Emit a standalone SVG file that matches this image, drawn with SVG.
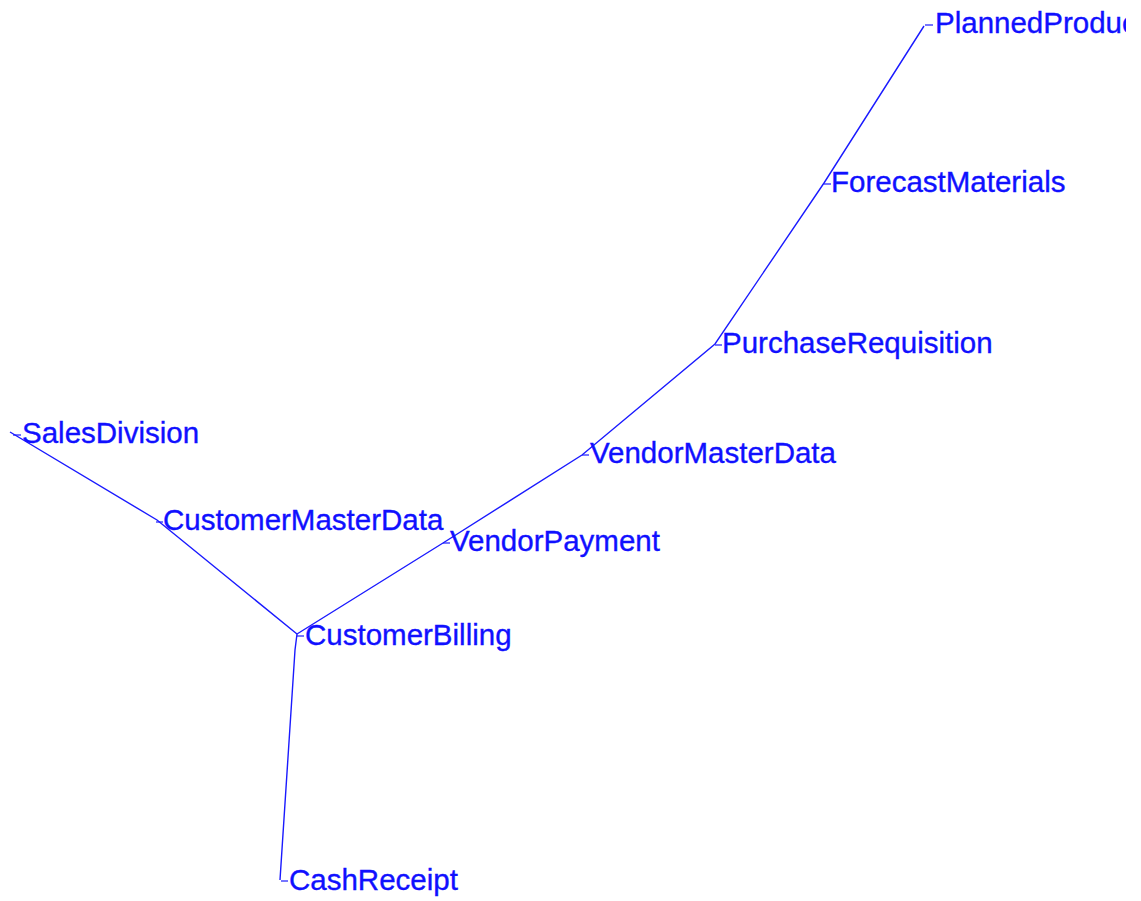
<svg xmlns="http://www.w3.org/2000/svg" width="1141" height="901" viewBox="0 0 1141 901">
  <style>
    .edge { fill: none; stroke: #1a1aff; stroke-width: 1.4; }
    .tick { stroke: #1a1aff; stroke-width: 1.2; }
    .label { font-family: "Liberation Sans", Arial, sans-serif; font-size: 29.5px; fill: #1010ff; stroke: #1010ff; stroke-width: 0.35; }
  </style>
  <defs>
    <clipPath id="frame"><rect x="0" y="0" width="1126" height="901"/></clipPath>
  </defs>
  <rect width="1141" height="901" fill="#ffffff"/>
  <g clip-path="url(#frame)">
    <g id="connectors">
      <polyline class="edge" points="10,432 157,520 297,634"/>
      <polyline class="edge" points="297,634 295,650 280,880"/>
      <polyline class="edge" points="297,634 443,543 582,455 715,344 824,183 924,26"/>
    </g>
    <g id="SalesDivision">
      <line class="tick" x1="13" y1="435" x2="21" y2="435"/>
      <text class="label" x="22" y="443">SalesDivision</text>
    </g>
    <g id="CustomerMasterData">
      <line class="tick" x1="156" y1="522" x2="163" y2="522"/>
      <text class="label" x="163" y="530">CustomerMasterData</text>
    </g>
    <g id="CustomerBilling">
      <line class="tick" x1="297" y1="636" x2="304" y2="636"/>
      <text class="label" x="305" y="645">CustomerBilling</text>
    </g>
    <g id="CashReceipt">
      <line class="tick" x1="281" y1="881" x2="288" y2="881"/>
      <text class="label" x="289" y="890">CashReceipt</text>
    </g>
    <g id="VendorPayment">
      <line class="tick" x1="443" y1="543" x2="450" y2="543"/>
      <text class="label" x="450" y="551">VendorPayment</text>
    </g>
    <g id="VendorMasterData">
      <line class="tick" x1="582" y1="455" x2="589" y2="455"/>
      <text class="label" x="590" y="463">VendorMasterData</text>
    </g>
    <g id="PurchaseRequisition">
      <line class="tick" x1="715" y1="345" x2="722" y2="345"/>
      <text class="label" x="722" y="353">PurchaseRequisition</text>
    </g>
    <g id="ForecastMaterials">
      <line class="tick" x1="824" y1="184" x2="831" y2="184"/>
      <text class="label" x="831" y="192">ForecastMaterials</text>
    </g>
    <g id="PlannedProduct">
      <line class="tick" x1="925" y1="25" x2="933" y2="25"/>
      <text class="label" x="935" y="33">PlannedProduct</text>
    </g>
  </g>
</svg>
